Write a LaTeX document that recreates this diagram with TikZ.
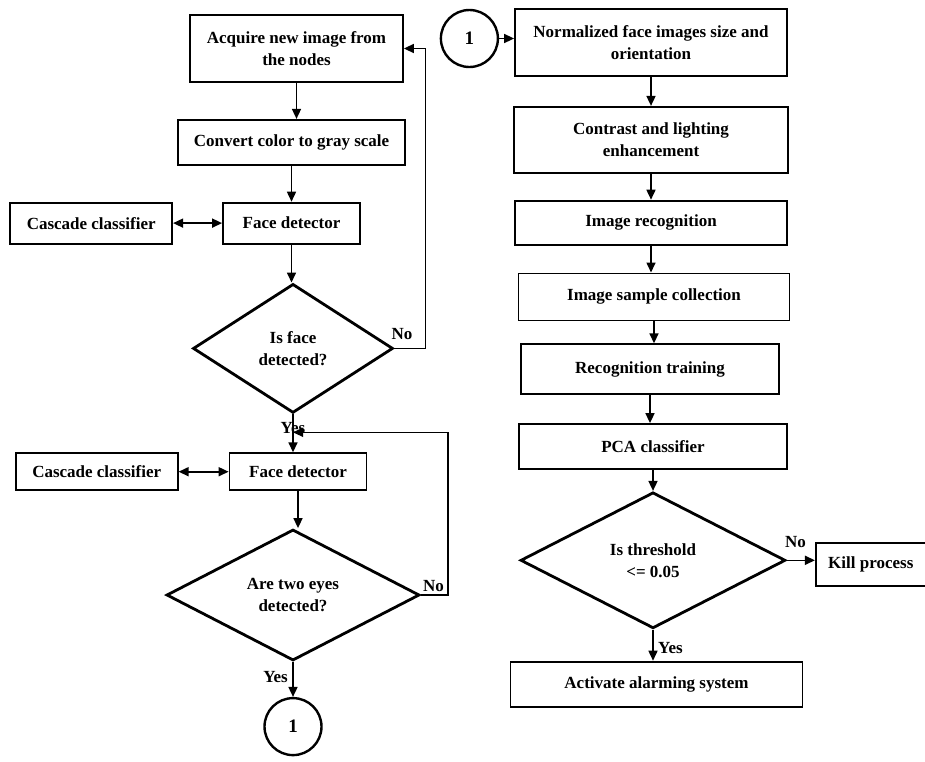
\documentclass[tikz,border=0pt]{standalone}
\usepackage{fontspec}
\setmainfont{Liberation Serif}
\usetikzlibrary{positioning,shapes.geometric,arrows.meta}

\tikzset{
  box/.style={draw, line width=1.8pt, align=center, inner sep=2pt,
    font=\bfseries\fontsize{17}{22}\selectfont},
  decide/.style={draw, diamond, line width=2.8pt, align=center, inner sep=0pt,
    font=\bfseries\fontsize{17}{22}\selectfont},
  conn/.style={draw, circle, line width=2.4pt, minimum size=57pt, inner sep=0pt,
    font=\bfseries\fontsize{19}{22}\selectfont},
  flow/.style={-{Triangle[length=10pt,width=9pt]}, line width=1.6pt},
  both/.style={{Triangle[length=10pt,width=9pt]}-{Triangle[length=10pt,width=9pt]}, line width=1.6pt},
  lbl/.style={inner sep=1pt, font=\bfseries\fontsize{17}{20}\selectfont}
}

\begin{document}
\begin{tikzpicture}[x=1pt,y=1pt]
\useasboundingbox (0,0) rectangle (925,-761);

% left column
\node[box, minimum width=213pt, minimum height=67pt] (acq) at (296.5,-48.5) {Acquire new image from\\the nodes};
\node[box, below=36pt of acq, xshift=-5pt, minimum width=227pt, minimum height=45pt] (gray) {Convert color to gray scale};
\node[box, below=36pt of gray, minimum width=137pt, minimum height=41pt] (fd1) {Face detector};
\node[box, left=49pt of fd1, minimum width=162pt, minimum height=41pt] (cc1) {Cascade classifier};
\node[decide, below=38pt of fd1, xshift=1.5pt, minimum width=200pt, minimum height=129pt] (d1) {Is face\\detected?};
\node[box, below=38pt of d1, xshift=5pt, minimum width=137pt, minimum height=37pt] (fd2) {Face detector};
\node[box, left=50pt of fd2, minimum width=162pt, minimum height=37pt] (cc2) {Cascade classifier};
\node[decide, below=37pt of fd2, xshift=-5pt, minimum width=253pt, minimum height=131pt] (d2) {Are two eyes\\detected?};
\node[conn, below=35pt of d2] (c1) {1};
\coordinate (yj) at ([yshift=-18pt]d1.south);

% right column
\node[box, minimum width=272pt, minimum height=67pt] (norm) at (651,-42.5) {Normalized face images size and\\orientation};
\node[conn, left=15pt of norm, yshift=4pt] (c2) {1};
\node[box, below=29pt of norm, minimum width=274pt, minimum height=66pt] (contr) {Contrast and lighting\\enhancement};
\node[box, below=26pt of contr, minimum width=272pt, minimum height=44pt] (imrec) {Image recognition};
\node[box, below=27pt of imrec, xshift=3pt, minimum width=271pt, minimum height=47pt] (sample) {Image sample collection};
\node[box, below=22pt of sample, xshift=-4pt, minimum width=258pt, minimum height=50pt] (train) {Recognition training};
\node[box, below=28pt of train, xshift=3pt, minimum width=268pt, minimum height=45pt] (pca) {PCA classifier};
\node[decide, below=21pt of pca, minimum width=265pt, minimum height=136pt] (d3) {Is threshold\\<= 0.05};
\node[box, right=28pt of d3, yshift=-4pt, minimum width=110pt, minimum height=43pt] (kill) {Kill process};
\node[box, below=31pt of d3, xshift=3.5pt, minimum width=292pt, minimum height=45pt] (act) {Activate alarming system};

% arrows
\foreach \a/\b in {acq/gray, gray/fd1, fd1/d1, d1/fd2, fd2/d2, d2/c1,
                   norm/contr, contr/imrec, imrec/sample, sample/train, train/pca, pca/d3, d3/act}
  \draw[flow] (\a.south) -- (\a.south |- \b.north);
\draw[both] (cc1) -- (fd1);
\draw[both] (cc2) -- (fd2);
\draw[flow] (c2.east) -- (c2.east -| norm.west);
\draw[flow] (d3.east) -- (d3.east -| kill.west);
\draw[flow] (d1.east) -- ++(31,0) |- (acq.east);
\draw[flow] (d2.east) -- ++(27,0) |- (yj);

% labels
\node[lbl, anchor=south west] (no1) at ([xshift=-4pt,yshift=8pt]d1.east) {No};
\node[lbl, anchor=north] (yes1) at ([yshift=-7pt]d1.south) {Yes};
\node[lbl, anchor=south west] (no2) at ([xshift=1pt,yshift=2pt]d2.east) {No};
\node[lbl, anchor=east] (yes2) at ([xshift=-4pt,yshift=-15pt]d2.south) {Yes};
\node[lbl, anchor=south west] (no3) at ([xshift=-3pt,yshift=11pt]d3.east) {No};
\node[lbl, anchor=west] (yes3) at ([xshift=4pt,yshift=-18pt]d3.south) {Yes};
\end{tikzpicture}
\end{document}
